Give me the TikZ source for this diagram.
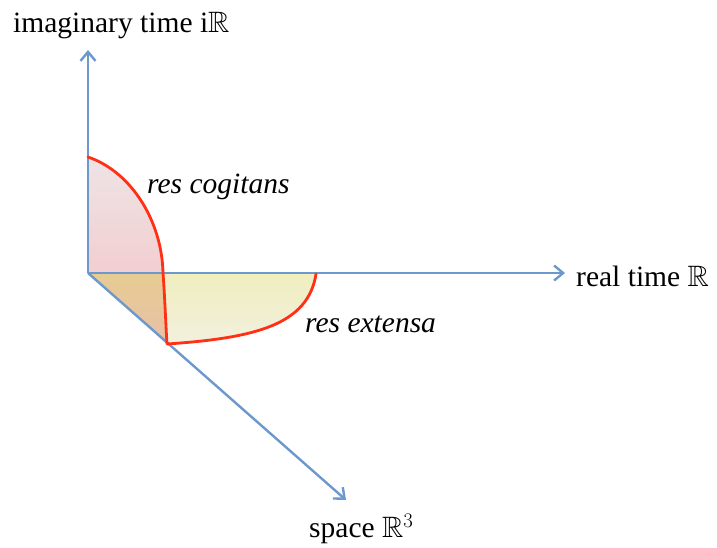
\documentclass[tikz,border=0pt]{standalone}
\usepackage{fontspec}
\setmainfont{Liberation Serif}
\usepackage{amssymb}
\usetikzlibrary{arrows.meta}
\definecolor{axisblue}{RGB}{108,152,206}
\definecolor{curvered}{RGB}{255,48,20}
\definecolor{pinktop}{RGB}{238,228,230}
\definecolor{pinkbot}{RGB}{242,206,208}
\definecolor{yeltop}{RGB}{240,238,190}
\definecolor{yelbot}{RGB}{242,240,222}
\definecolor{ortop}{RGB}{230,204,146}
\definecolor{orbot}{RGB}{232,192,168}
\tikzset{
  axisline/.style={draw=axisblue, line width=2.4pt, -{Straight Barb[length=9pt,width=15pt,line width=2.4pt]}},
  redcurve/.style={draw=curvered, line width=2.8pt, line cap=round, line join=round},
  lbl/.style={font=\fontsize{29.5}{34}\selectfont, inner sep=0pt},
  ilbl/.style={font=\fontsize{29.5}{34}\selectfont\itshape, inner sep=0pt}
}
\begin{document}
\begin{tikzpicture}[x=1pt,y=-1pt]
\useasboundingbox (0,0) rectangle (717,547);
\coordinate (O) at (88,273);
\coordinate (Ytip) at (88,50);
\coordinate (Xtip) at (565,273);
\coordinate (Ztip) at (346,500);
\coordinate (Ctop) at (88,157);
\coordinate (Cx) at (163,273);
\coordinate (B) at (167,344);
\coordinate (Eend) at (316,274);
% pink region
\shade[top color=pinktop, bottom color=pinkbot] (O) -- (Ctop) .. controls (132,172) and (162,222) .. (Cx) -- cycle;
% yellow region
\shade[top color=yeltop, bottom color=yelbot] (O) -- (Eend) .. controls (308,325) and (255,338) .. (B) -- cycle;
% overlap region
\shade[top color=ortop, bottom color=orbot] (O) -- (Cx) .. controls (165,300) and (166,330) .. (B) -- cycle;
% axes
\draw[axisline] (O) -- (Ytip);
\draw[axisline] (O) -- (Xtip);
\draw[axisline] (O) -- (Ztip);
% red curves
\draw[redcurve] (Ctop) .. controls (132,172) and (162,222) .. (Cx) .. controls (165,300) and (166,330) .. (B)
  .. controls (255,338) and (308,325) .. (Eend);
% labels
\node[lbl, anchor=base west] (ylab) at (13,32) {imaginary time i$\mathbb{R}$};
\node[lbl, anchor=base west] (xlab) at (576,286) {real time $\mathbb{R}$};
\node[lbl, anchor=base west] (zlab) at (309,537) {space $\mathbb{R}^3$};
\node[ilbl, anchor=base west] (cog) at (147,193) {res cogitans};
\node[ilbl, anchor=base west] (ext) at (305,332) {res extensa};
\end{tikzpicture}
\end{document}
